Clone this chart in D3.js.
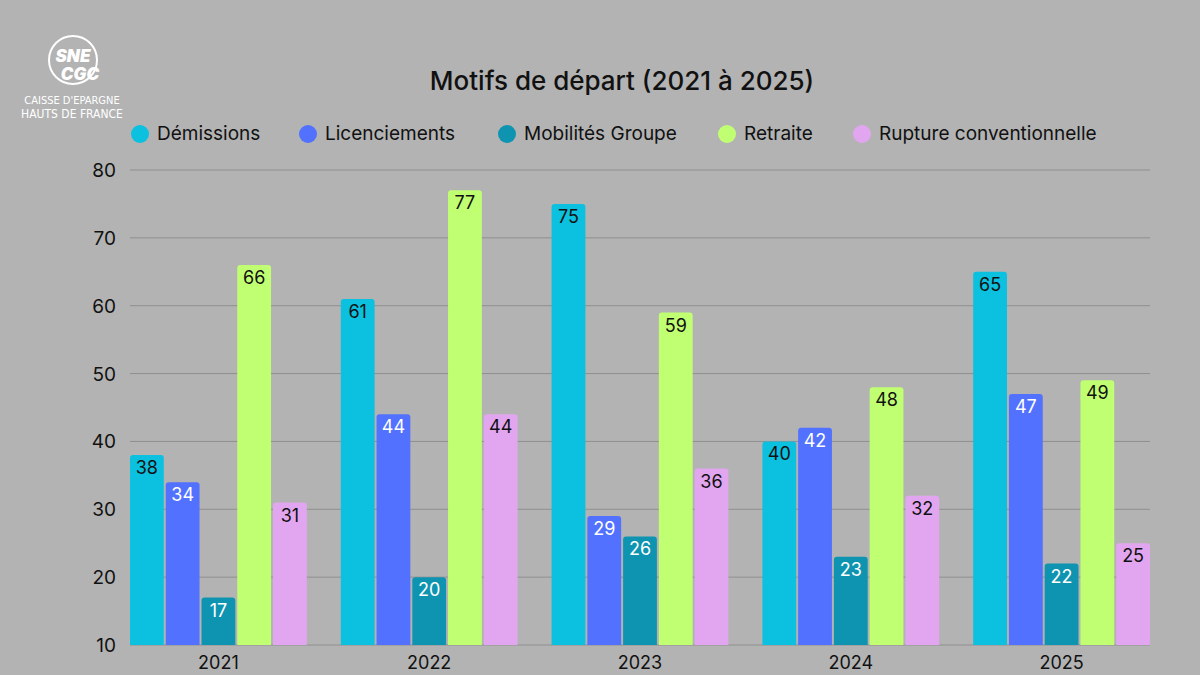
<!DOCTYPE html>
<html><head><meta charset="utf-8">
<script src="https://cdn.jsdelivr.net/npm/d3@7"></script>
<style>body{margin:0;background:#b3b3b3;font-family:Inter,"Open Sans",sans-serif}</style>
</head><body>
<svg id="c" width="1200" height="675"></svg>
<script>
const years = ["2021","2022","2023","2024","2025"];
const series = ["Démissions","Licenciements","Mobilités Groupe","Retraite","Rupture conventionnelle"];
const colors = ["#0cc0df","#5271ff","#0e94b0","#c1ff72","#e2a6f0"];
const labelColors = ["#111","#fff","#fff","#111","#111"];
const demissions = [38,61,75,40,65];
const licenciements = [34,44,29,42,47];
const mobilites = [17,20,26,23,22];
const retraite = [66,77,59,48,49];
const rupture = [31,44,36,32,25];
const values = [demissions,licenciements,mobilites,retraite,rupture];
const yTicks = [10,20,30,40,50,60,70,80];

const svg = d3.select("#c");
svg.append("rect").attr("width",1200).attr("height",675).attr("fill","#b3b3b3");

// logo
const logo = svg.append("g").attr("fill","#fff");
logo.append("circle").attr("cx",73).attr("cy",60).attr("r",24).attr("fill","none").attr("stroke","#fff").attr("stroke-width",2);
logo.append("text").attr("x",73).attr("y",62).attr("text-anchor","middle").attr("font-size",17).attr("font-weight",900).attr("font-style","italic").text("SNE");
logo.append("text").attr("x",80).attr("y",80).attr("text-anchor","middle").attr("font-size",17).attr("font-weight",900).attr("font-style","italic").text("CGC");
logo.append("text").attr("x",72).attr("y",104).attr("text-anchor","middle").attr("font-size",11).attr("font-family","'DejaVu Sans Condensed',sans-serif").text("CAISSE D'EPARGNE");
logo.append("text").attr("x",72).attr("y",118).attr("text-anchor","middle").attr("font-size",12).attr("font-family","'DejaVu Sans Condensed',sans-serif").text("HAUTS DE FRANCE");

svg.append("text").attr("x",622).attr("y",90).attr("text-anchor","middle").attr("font-size",26).attr("font-weight",500).attr("fill","#111").text("Motifs de départ (2021 à 2025)");

// legend
const legX = [140,308,507,727,862];
series.forEach((s,i)=>{
  const g = svg.append("g").attr("transform",`translate(${legX[i]},134)`);
  g.append("circle").attr("r",9).attr("fill",colors[i]);
  g.append("text").attr("x",17).attr("y",6).attr("font-size",19).attr("fill","#111").text(s);
});

const y = d3.scaleLinear().domain([10,80]).range([645,170]);
const x0 = d3.scaleBand().domain(years).range([113,1167]);
const x1 = d3.scaleBand().domain(d3.range(5)).range([17,x0.bandwidth()-17]).paddingInner(0.055);

svg.append("g").selectAll("line").data(yTicks).join("line")
  .attr("x1",130).attr("x2",1150).attr("y1",d=>y(d)).attr("y2",d=>y(d))
  .attr("stroke","#8f8f8f").attr("stroke-width",1);
svg.append("g").selectAll("text").data(yTicks).join("text")
  .attr("x",116).attr("y",d=>y(d)+7).attr("text-anchor","end").attr("font-size",19).attr("fill","#111").text(d=>d);

years.forEach((yr,j)=>{
  const g = svg.append("g").attr("transform",`translate(${x0(yr)},0)`);
  values.forEach((arr,i)=>{
    const v = arr[j];
    g.append("path").attr("fill",colors[i])
      .attr("d",()=>{const x=x1(i),w=x1.bandwidth(),t=y(v),b=y(10),r=3;
        return `M${x},${b}V${t+r}Q${x},${t} ${x+r},${t}H${x+w-r}Q${x+w},${t} ${x+w},${t+r}V${b}Z`;});
    g.append("text").attr("x",x1(i)+x1.bandwidth()/2).attr("y",y(v)+19)
      .attr("text-anchor","middle").attr("font-size",18).attr("fill",labelColors[i]).text(v);
  });
  svg.append("text").attr("x",x0(yr)+x0.bandwidth()/2).attr("y",669).attr("text-anchor","middle")
    .attr("font-size",18).attr("fill","#111").text(yr);
});
</script>
</body></html>
